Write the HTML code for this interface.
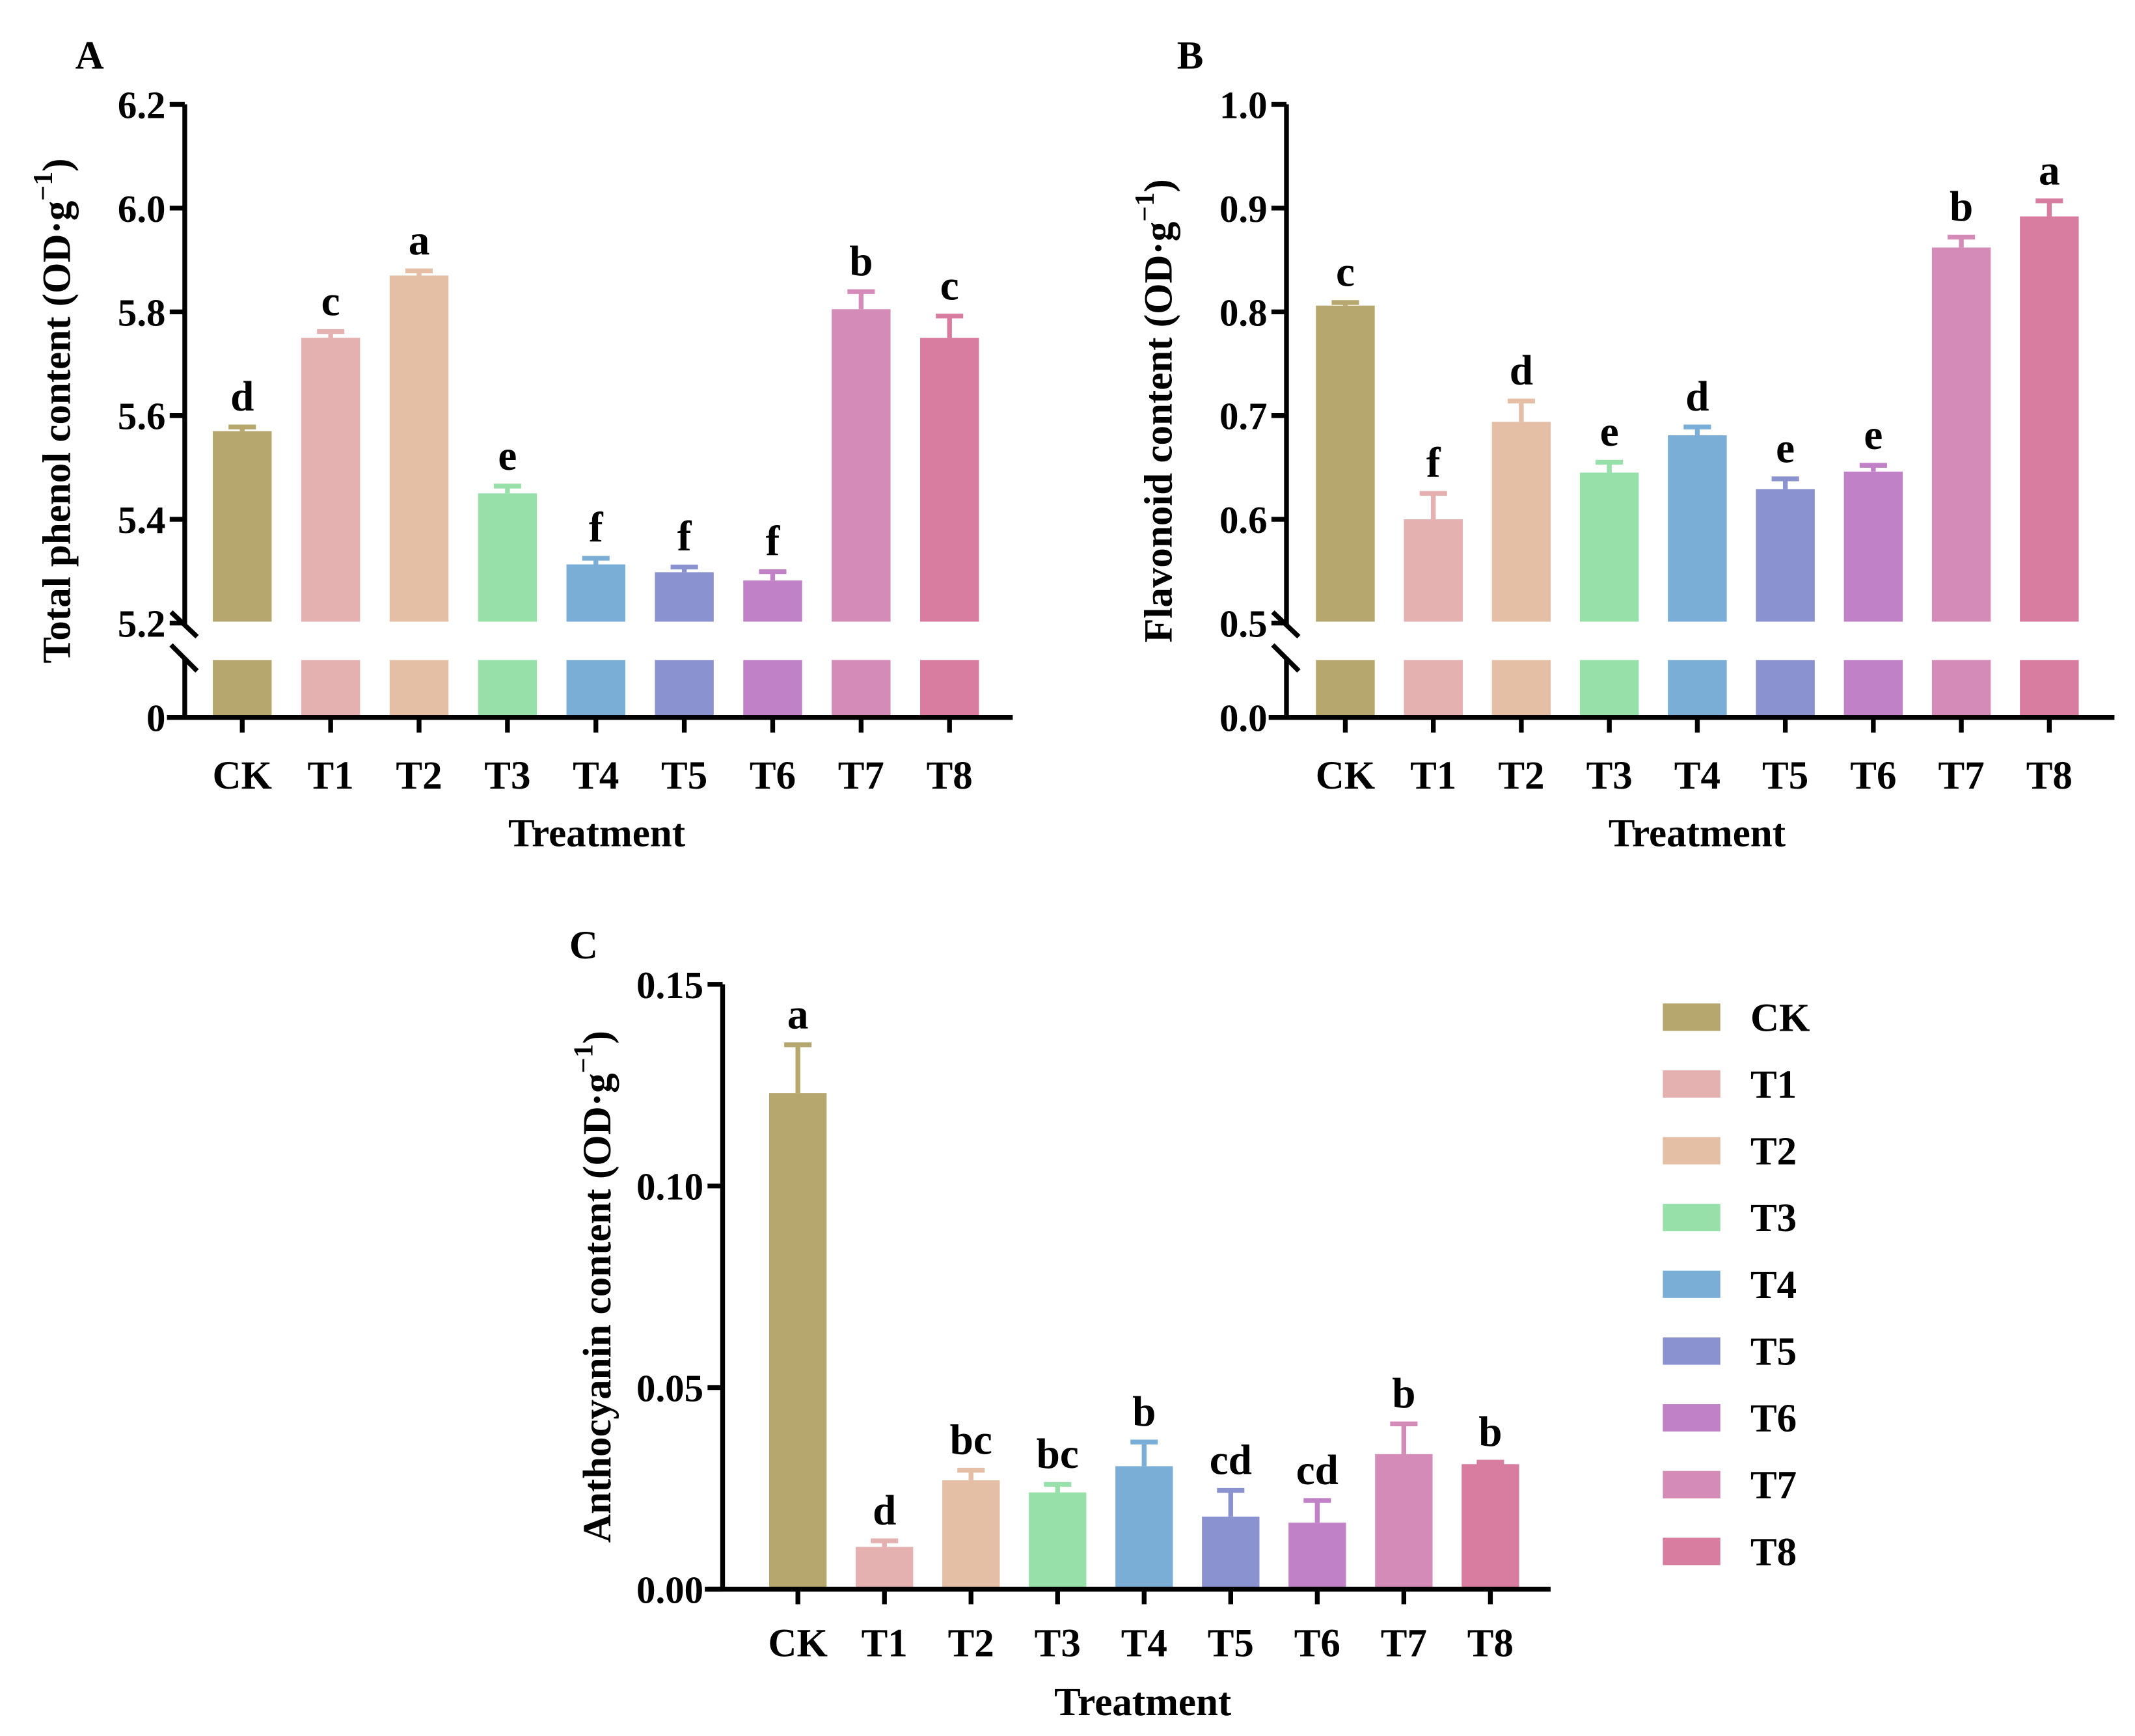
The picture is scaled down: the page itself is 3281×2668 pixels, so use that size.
<!DOCTYPE html>
<html><head><meta charset="utf-8"><style>
html,body{margin:0;padding:0;background:#fff}
svg{display:block}
text{font-family:"Liberation Serif",serif;font-weight:bold;fill:#000}
</style></head><body>
<svg id="fig" width="3281" height="2668" viewBox="0 0 1560 1268" xmlns="http://www.w3.org/2000/svg"></svg>
<script>
const categories=["CK","T1","T2","T3","T4","T5","T6","T7","T8"];
const colors=["#b5a76e","#e5b0b0","#e4bfa6","#97e0aa","#7aaed6","#8a92d0","#c081c6","#d48bb8","#d87d9f"];
const phenolValues=[5.57,5.75,5.87,5.45,5.313,5.298,5.282,5.805,5.75];
const phenolErrors=[0.008,0.012,0.009,0.014,0.012,0.01,0.017,0.034,0.042];
const phenolLetters=["d","c","a","e","f","f","f","b","c"];
const phenolTicks=["6.2","6.0","5.8","5.6","5.4","5.2"];
const flavValues=[0.806,0.600,0.694,0.645,0.681,0.629,0.646,0.862,0.892];
const flavErrors=[0.003,0.025,0.02,0.01,0.008,0.01,0.006,0.01,0.015];
const flavLetters=["c","f","d","e","d","e","e","b","a"];
const flavTicks=["1.0","0.9","0.8","0.7","0.6","0.5"];
const anthoValues=[0.123,0.0105,0.027,0.024,0.0305,0.018,0.0165,0.0335,0.031];
const anthoErrors=[0.012,0.0015,0.0025,0.002,0.006,0.0065,0.0055,0.0075,0.0005];
const anthoLetters=["a","d","bc","bc","b","cd","cd","b","b"];
const anthoTicks=["0.00","0.05","0.10","0.15"];

const svg=document.getElementById('fig');
const NS="http://www.w3.org/2000/svg";
function mk(tag,attrs,parent){const e=document.createElementNS(NS,tag);for(const k in attrs)e.setAttribute(k,attrs[k]);(parent||svg).appendChild(e);return e;}
function txt(s,x,y,size,parent,anchor){const t=mk('text',{x:x,y:y,'font-size':size,'text-anchor':anchor||'middle'},parent);t.textContent=s;return t;}

function yTitle(g,x,y,label){
  const t=mk('text',{transform:`translate(${x},${y}) rotate(-90)`,'font-size':29,'text-anchor':'middle'},g);
  
  
  const a=mk('tspan',{},t);a.textContent=label+" (OD·g";
  const b=mk('tspan',{dy:-13,'font-size':20},t);b.textContent="−1";
  const c=mk('tspan',{dy:13},t);c.textContent=")";
}

function brokenPanel(name,cfg){
  const g=mk('g',{});
  
  
  const ax=cfg.ax, yTop=76, yLow=455, y0=524, lowTop=482;
  const vTop=cfg.vTop, vLow=cfg.vLow;
  const y=v=>yLow-(v-vLow)/(vTop-vLow)*(yLow-yTop);
  const x=i=>cfg.x0+i*cfg.dx;
  const bw=43;
  categories.forEach((c,i)=>{
    const v=cfg.values[i], e=cfg.errors[i], col=colors[i];
    const top=mk('rect',{x:x(i)-bw/2,y:y(v),width:bw,height:yLow-y(v)-1,fill:col},g);
    
    
    const low=mk('rect',{x:x(i)-bw/2,y:lowTop,width:bw,height:y0-lowTop,fill:col},g);
    
    
    const ey=y(v+e);
    const eb=mk('path',{d:`M${x(i)} ${y(v)}V${ey}M${x(i)-10} ${ey}H${x(i)+10}`,stroke:col,'stroke-width':3.5,fill:'none'},g);
    
    
    const l=txt(cfg.letters[i],x(i),ey-12,31,g);
    
    
    mk('line',{x1:x(i),x2:x(i),y1:y0,y2:y0+11,stroke:'#000','stroke-width':3.5},g);
    const tl=txt(c,x(i),576,29,g);
    
    
  });
  mk('path',{d:`M${ax} ${yTop}V${yLow+1}M${ax} ${lowTop-2}V${y0}`,stroke:'#000','stroke-width':3.5,fill:'none'},g);
  mk('path',{d:`M${ax-10} ${447}L${ax+9} ${465}M${ax-10} ${471}L${ax+9} ${490}`,stroke:'#000','stroke-width':3.5,fill:'none'},g);
  mk('line',{x1:ax-13,x2:cfg.xEnd,y1:y0,y2:y0,stroke:'#000','stroke-width':3.5},g);
  cfg.ticks.forEach(s=>{
    const v=parseFloat(s), yy=y(v);
    mk('line',{x1:ax-11,x2:ax,y1:yy,y2:yy,stroke:'#000','stroke-width':3.5},g);
    const t=txt(s,ax-14,yy+10,28,g,'end');
    
    
  });
  const z=txt(cfg.zero,ax-14,y0+10,28,g,'end');
  
  
  const xt=txt("Treatment",cfg.xTitle,618,29,g);
  
  
  yTitle(g,cfg.ax-84,300,cfg.label);
  const p=txt(cfg.panel,cfg.ax-80,50,29,g,'start');
  
  
}
brokenPanel('panel-a-total-phenol',{ax:135,x0:177,dx:64.6,xEnd:740,vTop:6.2,vLow:5.2,values:phenolValues,errors:phenolErrors,letters:phenolLetters,ticks:phenolTicks,zero:"0",label:"Total phenol content",panel:"A",xTitle:436});
brokenPanel('panel-b-flavonoid',{ax:940,x0:983,dx:64.3,xEnd:1545,vTop:1.0,vLow:0.5,values:flavValues,errors:flavErrors,letters:flavLetters,ticks:flavTicks,zero:"0.0",label:"Flavonoid content",panel:"B",xTitle:1240});

(function(){
  const g=mk('g',{});
  
  
  const ax=528, y0=1161, yTop=719;
  const y=v=>y0-v/0.15*(y0-yTop);
  const x=i=>583+i*63.25;
  const bw=42;
  categories.forEach((c,i)=>{
    const v=anthoValues[i], e=anthoErrors[i], col=colors[i];
    const r=mk('rect',{x:x(i)-bw/2,y:y(v),width:bw,height:y0-y(v),fill:col},g);
    
    
    const ey=y(v+e);
    const eb=mk('path',{d:`M${x(i)} ${y(v)}V${ey}M${x(i)-10} ${ey}H${x(i)+10}`,stroke:col,'stroke-width':3.5,fill:'none'},g);
    
    
    const l=txt(anthoLetters[i],x(i),ey-12,31,g);
    
    
    mk('line',{x1:x(i),x2:x(i),y1:y0,y2:y0+11,stroke:'#000','stroke-width':3.5},g);
    const tl=txt(c,x(i),1210,29,g);
    
    
  });
  mk('line',{x1:ax,x2:ax,y1:yTop,y2:y0,stroke:'#000','stroke-width':3.5},g);
  mk('line',{x1:ax-13,x2:1133,y1:y0,y2:y0,stroke:'#000','stroke-width':3.5},g);
  anthoTicks.forEach(s=>{
    const yy=y(parseFloat(s));
    mk('line',{x1:ax-11,x2:ax,y1:yy,y2:yy,stroke:'#000','stroke-width':3.5},g);
    const t=txt(s,ax-14,yy+10,28,g,'end');
    
    
  });
  const xt=txt("Treatment",835,1253,29,g);
  
  
  yTitle(g,446,940,"Anthocyanin content");
  const p=txt("C",416,700,29,g,'start');
  
  
})();

(function(){
  const g=mk('g',{});
  
  
  categories.forEach((c,i)=>{
    const yy=743+i*48.8;
    const e=mk('g',{},g);
    
    
    mk('rect',{x:1215,y:yy-10,width:42,height:20,fill:colors[i]},e);
    txt(c,1279,yy+10,29,e,'start');
  });
})();
</script>
</body></html>
